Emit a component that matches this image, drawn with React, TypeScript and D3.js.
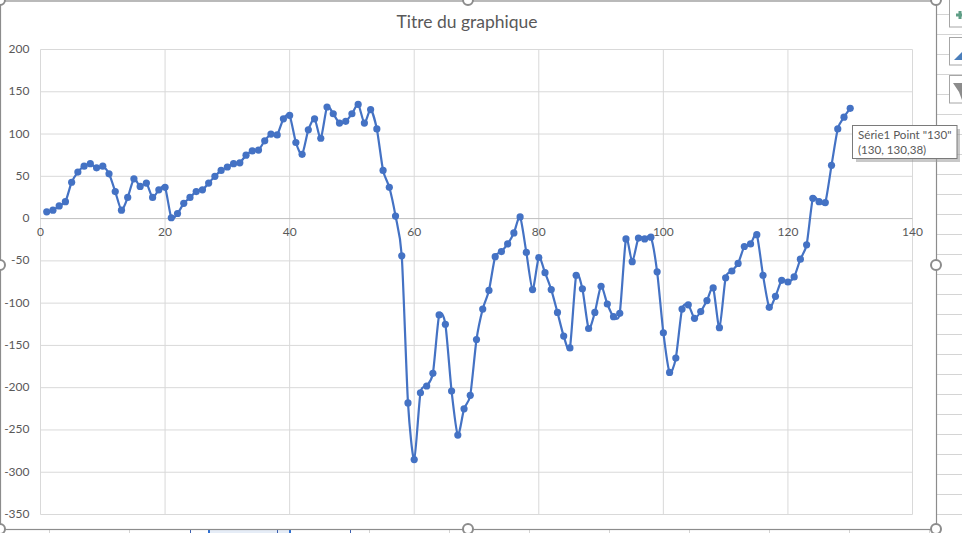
import React from "react";
import * as d3 from "d3";

const chartTitle = "Titre du graphique";
const seriesValues = [
  8, 10, 15, 20, 43, 55, 62, 65, 60, 62, 53, 32, 10, 25, 47, 38, 42, 25, 34, 37,
  1, 6, 18, 25, 32, 34, 42, 50, 57, 61, 65, 66, 75, 80, 81, 92, 100, 99, 118, 122,
  90, 76, 105, 118, 95, 132, 124, 113, 115, 124, 135, 113, 129, 106, 57, 37, 3, -44, -218, -285,
  -206, -198, -183, -114, -125, -204, -256, -225, -209, -143, -107, -85, -45, -39, -30, -17, 2, -40, -84, -46,
  -64, -84, -111, -139, -153, -67, -83, -130, -111, -80, -101, -116, -112, -24, -51, -23, -24, -22, -63, -135,
  -182, -165, -107, -102, -118, -110, -97, -82, -129, -70, -62, -53, -33, -30, -19, -67, -105, -92, -73, -75,
  -69, -48, -31, 24, 20, 19, 63, 106, 120, 130.38,
];
const xTicks = [0, 20, 40, 60, 80, 100, 120, 140];
const yTicks = [200, 150, 100, 50, 0, -50, -100, -150, -200, -250, -300, -350];
const tooltipLines = ['Série1 Point "130"', "(130, 130,38)"];
const sheetRows = d3.range(14, 533, 20);
const sheetCols = d3.range(49, 962, 80);
const handles: [number, number][] = [
  [0, 0], [468, 0], [936, 0], [0, 265], [936, 265], [0, 529], [468, 529], [936, 529],
];

const x = d3.scaleLinear().domain([0, 140]).range([40.5, 912.5]);
const y = d3.scaleLinear().domain([200, -350]).range([49.5, 514.5]);
const font = "Lato, 'Open Sans', sans-serif";
const GRID = "#d9d9d9";
const TEXT = "#595959";
const BLUE = "#4472c4";

export default function App() {
  const line = d3
    .line<number>()
    .x((_, i) => x(i + 1))
    .y((d) => y(d))
    .curve(d3.curveCardinal.tension(0.3));

  return (
    <svg
      width={962}
      height={533}
      style={{ position: "fixed", left: 0, top: 0, display: "block", background: "#fff" }}
    >
      {/* worksheet behind the chart */}
      {sheetRows.map((r) => (
        <line key={r} x1={936} x2={962} y1={r + 0.5} y2={r + 0.5} stroke="#d4d4d4" />
      ))}
      {sheetCols.map((c) => (
        <line key={c} x1={c + 0.5} x2={c + 0.5} y1={529} y2={533} stroke="#d4d4d4" />
      ))}
      <rect x={209} y={530} width={80} height={3} fill="#e6edf7" />
      <rect x={208} y={530} width={2} height={3} fill="#2f6fd0" />
      <rect x={289} y={530} width={2} height={3} fill="#2f6fd0" />
      <rect x={190} y={530} width={1} height={3} fill="#3b5fb0" />
      <rect x={277} y={530} width={1} height={3} fill="#3b5fb0" />
      <rect x={350} y={530} width={1} height={3} fill="#3b5fb0" />

      {/* chart frame */}
      <rect x={0.5} y={1} width={936} height={528.5} fill="#fff" stroke="#8c8c8c" strokeWidth={1.2} />

      {/* side buttons */}
      {[0, 38, 76].map((b) => (
        <rect key={b} x={949.5} y={b - 0.5} width={20} height={27.5} fill="#fff" stroke="#a6a6a6" />
      ))}
      <path d="M956 15h6M960 11v8" stroke="#5f9e86" strokeWidth={3} fill="none" />
      <path d="M954 60 L962 52 L962 60 Z" fill="#4a7ebb" />
      <path d="M953 83 L962 83 L962 100 L959 92 Z" fill="#8c8c8c" />

      {/* gridlines */}
      {xTicks.map((t) => (
        <line key={t} x1={x(t)} x2={x(t)} y1={y(200)} y2={y(-350)} stroke={GRID} />
      ))}
      {yTicks.map((t) => (
        <line
          key={t}
          x1={x(0)}
          x2={x(140)}
          y1={y(t)}
          y2={y(t)}
          stroke={t === 0 ? "#bfbfbf" : GRID}
        />
      ))}

      {/* tick labels */}
      {yTicks.map((t) => (
        <text
          key={t}
          x={29.5}
          y={y(t) + 0.5}
          textAnchor="end"
          dominantBaseline="middle"
          fontFamily={font}
          fontSize={12}
          fill={TEXT}
        >
          {t}
        </text>
      ))}
      {xTicks.map((t) => (
        <text
          key={t}
          x={x(t)}
          y={y(0) + 14.5}
          textAnchor="middle"
          dominantBaseline="middle"
          fontFamily={font}
          fontSize={12}
          fill={TEXT}
        >
          {t}
        </text>
      ))}

      {/* title */}
      <text
        x={467}
        y={23.5}
        textAnchor="middle"
        dominantBaseline="middle"
        fontFamily={font}
        fontSize={17.5}
        fill={TEXT}
      >
        {chartTitle}
      </text>

      {/* series */}
      <path d={line(seriesValues) ?? ""} fill="none" stroke={BLUE} strokeWidth={2.2} strokeLinecap="round" />
      {seriesValues.map((v, i) => (
        <circle key={i} cx={x(i + 1)} cy={y(v)} r={3.6} fill={BLUE} />
      ))}

      {/* selection handles */}
      {handles.map(([hx, hy], i) => (
        <circle key={i} cx={hx} cy={hy} r={5} fill="#fff" stroke="#8c8c8c" strokeWidth={2} />
      ))}

      {/* tooltip */}
      <rect x={856} y={129} width={104} height={33} fill="#9a9a9a" opacity={0.55} />
      <rect x={852.5} y={125.5} width={104.5} height={33} fill="#fff" stroke="#7a7a7a" />
      {tooltipLines.map((l, i) => (
        <text key={i} x={858} y={139 + i * 15} fontFamily={font} fontSize={11.6} fill="#595959">
          {l}
        </text>
      ))}
    </svg>
  );
}
